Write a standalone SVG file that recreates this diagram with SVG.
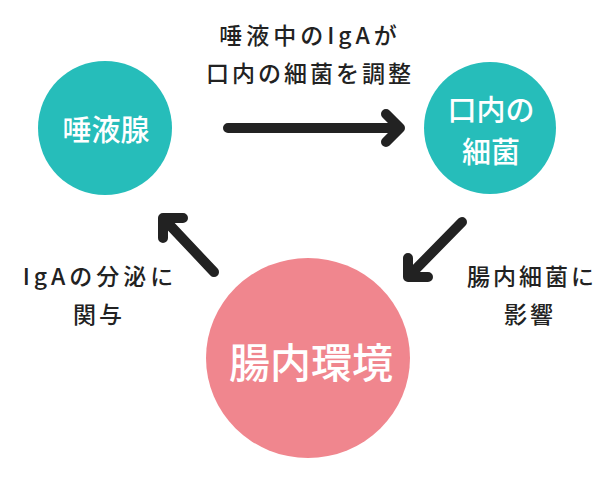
<svg xmlns="http://www.w3.org/2000/svg" width="615" height="478" viewBox="0 0 615 478">
<style>
.lbl{font-family:"Noto Sans CJK JP","Noto Sans",sans-serif;fill:#222;font-size:23px;font-weight:500;text-anchor:middle;dominant-baseline:central;letter-spacing:3px}
.node{font-family:"Noto Sans CJK JP","Noto Sans",sans-serif;fill:#fff;font-weight:500;text-anchor:middle;dominant-baseline:central}
.arr{fill:none;stroke:#222;stroke-width:10;stroke-linecap:round;stroke-linejoin:round}
</style>
<rect width="615" height="478" fill="#fff"/>
<g id="node-saliva">
<circle cx="105" cy="128" r="67" fill="#26BDBA"/>
<text class="node" x="106" y="128" font-size="29">唾液腺</text>
</g>
<g id="node-oral">
<circle cx="490" cy="128" r="66" fill="#26BDBA"/>
<text class="node" x="491" y="108" font-size="29">口内の</text>
<text class="node" x="491" y="150" font-size="29">細菌</text>
</g>
<g id="node-gut">
<ellipse cx="308" cy="358" rx="102" ry="100" fill="#F0868E"/>
<text class="node" x="311" y="360" font-size="41">腸内環境</text>
</g>
<g id="connectors">
<path class="arr" d="M228 128 H398 M386 114 L400 128 L386 142"/>
<path class="arr" d="M462 222 L410 275 M408 258 L408 277 L428 277"/>
<path class="arr" d="M214 272 L164 219 M163 238 L163 218 L183 218"/>
</g>
<g id="labels">
<text class="lbl" x="310" y="34" style="letter-spacing:4px">唾液中のIgAが</text>
<text class="lbl" x="310" y="72">口内の細菌を調整</text>
<text class="lbl" x="100" y="275" style="letter-spacing:4px">IgAの分泌に</text>
<text class="lbl" x="99" y="313">関与</text>
<text class="lbl" x="532" y="275">腸内細菌に</text>
<text class="lbl" x="530" y="313">影響</text>
</g>
</svg>
